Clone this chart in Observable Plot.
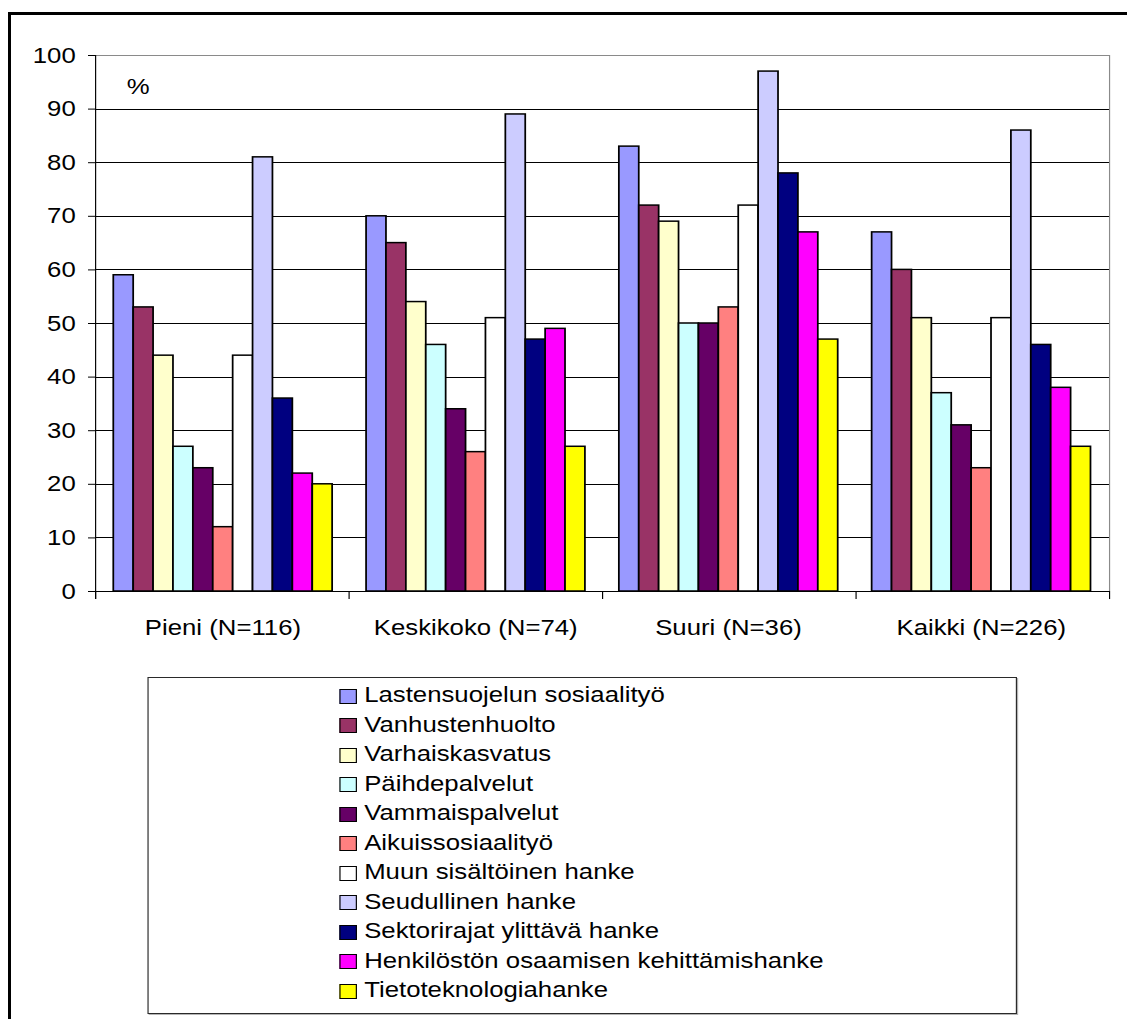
<!DOCTYPE html>
<html>
<head>
<meta charset="utf-8">
<script src="https://cdn.jsdelivr.net/npm/d3@7"></script>
<script src="https://cdn.jsdelivr.net/npm/@observablehq/plot@0.6"></script>
<style>
  html, body { margin: 0; padding: 0; background: #fff; width: 1127px; height: 1019px; overflow: hidden; }
  #chart {
    position: absolute; left: 0; top: 0; width: 963px; height: 1019px;
    transform: scaleX(1.1703); transform-origin: 0 0;
    font-family: "Liberation Sans", Arial, sans-serif; color: #000;
  }
  #chart svg { position: absolute; left: 0; top: 0; }
  #frame {
    position: absolute; left: 8px; top: 12px; width: 1300px; height: 1200px;
    border-left: 3px solid #000; border-top: 3px solid #000; pointer-events: none;
  }
  #legend {
    position: absolute; left: 125.6px; top: 677px; width: 741px; height: 335px;
    border: 1px solid #2a2a2a; box-shadow: 1px 1px 0 #b5b5b5; background: #fff;
    box-sizing: content-box;
  }
  #legend ul { list-style: none; margin: 0; padding: 2.5px 0 0 163.9px; }
  #legend li { height: 29.5px; display: flex; align-items: center; font-size: 22px; white-space: nowrap; }
  #legend .sw { width: 12.4px; height: 13px; border: 1px solid #000; margin-right: 6.3px; flex: none; position: relative; top: 1px; }
</style>
</head>
<body>
<div id="chart"></div>
<div id="frame"></div>
<script>
// Groups (municipality size) and project types
const groups = ["Pieni (N=116)", "Keskikoko (N=74)", "Suuri (N=36)", "Kaikki (N=226)"];
const series = [
  "Lastensuojelun sosiaalityö",
  "Vanhustenhuolto",
  "Varhaiskasvatus",
  "Päihdepalvelut",
  "Vammaispalvelut",
  "Aikuissosiaalityö",
  "Muun sisältöinen hanke",
  "Seudullinen hanke",
  "Sektorirajat ylittävä hanke",
  "Henkilöstön osaamisen kehittämishanke",
  "Tietoteknologiahanke"
];
const colors = ["#9999ff", "#993366", "#ffffcc", "#ccffff", "#660066", "#ff8080",
                "#ffffff", "#ccccff", "#000080", "#ff00ff", "#ffff00"];

// Percentages per group, in series order
const pieni     = [59, 53, 44, 27, 23, 12, 44, 81, 36, 22, 20];
const keskikoko = [70, 65, 54, 46, 34, 26, 51, 89, 47, 49, 27];
const suuri     = [83, 72, 69, 50, 50, 53, 72, 97, 78, 67, 47];
const kaikki    = [67, 60, 51, 37, 31, 23, 51, 86, 46, 38, 27];

const yTicks = [0, 10, 20, 30, 40, 50, 60, 70, 80, 90, 100];

const values = [pieni, keskikoko, suuri, kaikki];
const table = groups.flatMap((g, gi) =>
  values[gi].map((v, si) => ({group: g, series: series[si], value: v})));

// Shared frame geometry
const W = 963, H = 660;
const margins = {marginLeft: 81.2, marginRight: 15.4, marginTop: 55, marginBottom: 69};
const style = {background: "transparent", fontFamily: "'Liberation Sans', Arial, sans-serif",
               fontSize: "22px", color: "#000", overflow: "visible"};

// Gridlines, plot-area border, y axis and category boundary ticks
const grid = Plot.plot({
  width: W, height: H, ...margins, style,
  x: {domain: [0, groups.length], axis: null},
  y: {domain: [0, 100], ticks: yTicks, tickSize: 6, tickPadding: 11, label: null},
  marks: [
    Plot.ruleY(yTicks.filter(t => t > 0 && t < 100), {stroke: "#000", shapeRendering: "crispEdges"}),
    Plot.ruleY([100], {stroke: "#8a8a8a", shapeRendering: "crispEdges"}),
    Plot.ruleX([groups.length], {y1: 0, y2: 100, stroke: "#8a8a8a"}),
    Plot.ruleY([0], {stroke: "#000", shapeRendering: "crispEdges"}),
    Plot.ruleX(d3.range(groups.length + 1), {y1: -1.5, y2: 0, stroke: "#000"}),
    Plot.ruleX([0], {y1: -1.5, y2: 100, stroke: "#000"}),
    Plot.text(["%"], {frameAnchor: "top-left", dx: 26.5, dy: 22.5, textAnchor: "start", fontSize: 22})
  ]
});

// Grouped bars: one facet per group, one band per project type
const bars = Plot.plot({
  width: W, height: H, ...margins, style,
  facet: {data: table, x: "group"},
  fx: {domain: groups, padding: 0, label: null, axis: "bottom", tickSize: 0, tickPadding: 28},
  x: {domain: series, paddingInner: 0, paddingOuter: 0.724, axis: null},
  y: {domain: [0, 100], axis: null},
  color: {domain: series, range: colors},
  marks: [
    Plot.barY(table, {x: "series", y: "value", fill: "series", stroke: "#000", strokeWidth: 1.5})
  ]
});

const chart = document.getElementById("chart");
chart.append(grid, bars);

// Legend box
const legend = document.createElement("div");
legend.id = "legend";
const ul = document.createElement("ul");
series.forEach((s, i) => {
  const li = document.createElement("li");
  const sw = document.createElement("span");
  sw.className = "sw";
  sw.style.background = colors[i];
  const label = document.createElement("span");
  label.textContent = s;
  li.append(sw, label);
  ul.append(li);
});
legend.append(ul);
chart.append(legend);
</script>
</body>
</html>
